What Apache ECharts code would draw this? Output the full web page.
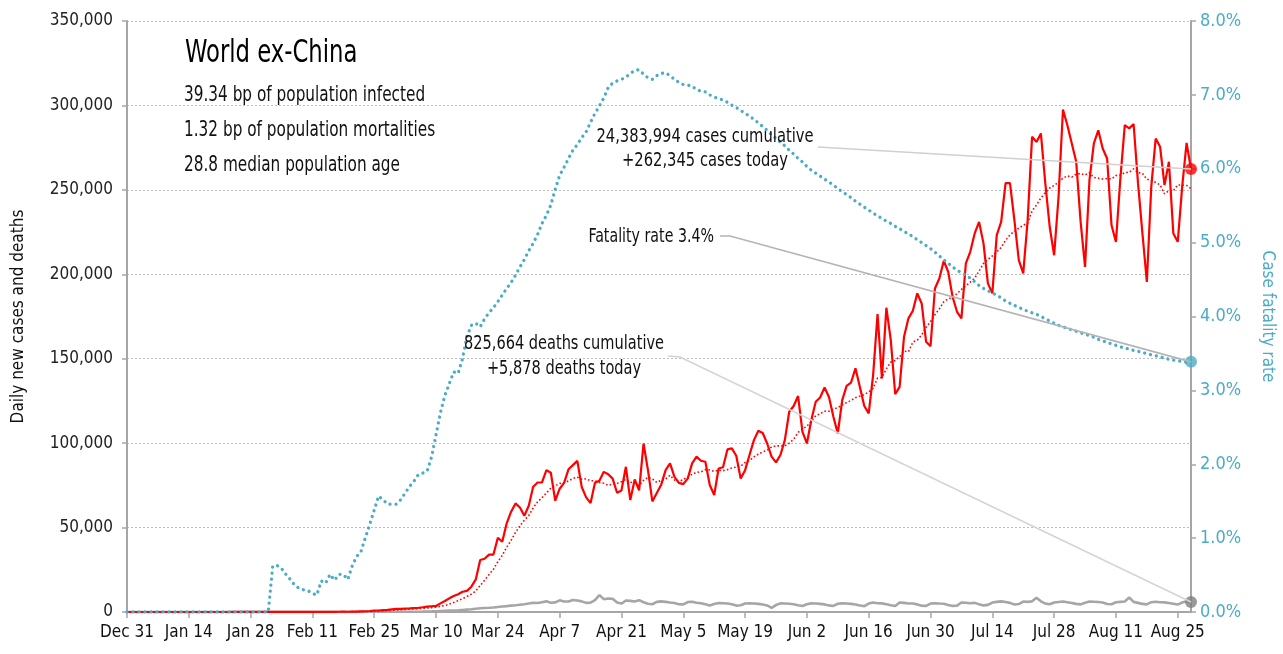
<!DOCTYPE html>
<html><head><meta charset="utf-8">
<script src="https://cdn.jsdelivr.net/npm/echarts@6/dist/echarts.min.js"></script>
<style>html,body{margin:0;padding:0;background:#fff}#c{width:1283px;height:654px}</style>
</head><body><div id="c"></div>
<script>
// ---- data: daily values from Dec 31 (index 0) to Aug 28 (index 241) ----
const startDate = '2019-12-31';
const nDays = 242;
const leftTicks = [0, 50000, 100000, 150000, 200000, 250000, 300000, 350000];
const rightTicks = [0, 1, 2, 3, 4, 5, 6, 7, 8];

// daily new cases, thousands
const casesK = [
  0,0,0,0,0,0,0,0,0,0, 0,0,0,0,0,0,0,0,0,0,
  0.01,0.01,0.01,0.01,0.02,0.02,0.02,0.03,0.02,0.03,0.03,
  0.03,0.02,0.03,0.03,0.04,0.05,0.07,0.05,0.06,0.08,
  0.07,0.1,0.1,0.08,0.1,0.09,0.12,0.15,0.2,0.15,
  0.3,0.25,0.35,0.45,0.6,
  0.8,0.9,1.1,1.3,1.6,1.8,1.9,2.0,2.1,2.3,
  2.5,2.8,3.2,3.4,3.6,5.1,6.5,8.1,9.5,10.5,
  12,12.5,15,19.3,30.8,31.5,34,34,44,41.6,
  52.5,59.4,64.3,61.9,57,62.9,74.2,76.7,76.7,84,
  82.5,65.9,73,76.5,84.5,87,89.5,74,67.9,64.5,
  76.5,77.7,83,81.6,79,70.6,72,86,66.3,78.5,
  72,99.8,84,65.5,70.5,75.4,84,88,80,76.5,
  75.7,79,88,92,89.6,89,75.2,69.3,85,85.7,
  96.3,96.9,92.5,79,84,93,101.8,107.3,106,99.8,
  92,88.6,93,101.8,118.6,122,127.9,106.7,99.8,113.7,
  124.5,127,133,127.3,115.6,105.8,125.5,133.9,135.9,144.3,
  133.3,122,117.6,140.3,176.4,138.3,180.2,161,129,133.3,
  163,173.9,178.4,188.7,182.7,160,157.4,191.6,197.5,208,
  201.5,186.7,177.8,173.9,206.4,213.3,224.2,231,218.3,194.6,
  188.7,223.2,231,254,254,232,208.4,200.5,232,281.4,
  278.4,283.4,253.8,228,211.3,245.9,297.6,288.3,277.5,266.6,
  231,204.4,255.7,277.5,285.3,274.5,268.6,229,219.2,256.7,
  288.3,286.4,289,253.8,224.2,195.5,251.8,280.4,275.5,252.8,
  266.6,224.2,219.2,251.8,277.8,262.345
];

// 7-day average of new cases, thousands
const casesAvgK = [
  0,0,0,0,0,0,0,0,0,0, 0,0,0,0,0,0,0,0,0,0,
  0,0,0,0,0.01,0.01,0.01,0.01,0.02,0.02,
  0.02,0.02,0.02,0.03,0.03,0.03,0.04,0.04,0.05,0.05,
  0.06,0.07,0.07,0.08,0.08,0.09,0.09,0.1,0.11,0.12,
  0.13,0.15,0.2,0.22,0.27,0.33,
  0.42,0.52,0.65,0.8,0.97,1.16,1.34,
  1.52,1.69,1.86,2.03,2.2,2.4,2.61,
  2.84,3.27,3.87,4.67,5.63,6.67,7.9,9.17,10.59,12.41,
  15.66,18.8,22.16,25.3,29.8,33.6,38.34,42.43,47.1,51.1,
  54.4,57.1,61.7,65.2,67.7,70.5,73.4,74.7,76.1,76.5,
  77.6,79.1,79.8,78.6,78.9,77.7,77.7,76.7,76.2,75,
  75.7,76.1,77.2,78.6,76.9,76.3,74.9,77.9,79.8,78.9,
  76.7,78,78.7,81,78.2,77.1,78.6,79.8,81.6,82.7,
  83,84.3,84.1,83.2,84,83.7,84.3,85.3,85.8,86.4,
  88.5,89.6,91.9,93.5,94.8,95.8,97.7,98.4,98.4,98.4,
  100,102.3,106.3,108.4,110,112.9,116.2,117.4,118.9,118.9,
  120.1,121,122.7,124,125.3,126.9,127.8,128.7,130.4,132.5,
  138.5,138.9,144,148,149,151.2,154.5,154.1,159.8,161,
  164.1,168.6,172,176.1,179.5,183.7,185.5,186.1,188.6,191,
  193.1,195.4,197.7,201.9,206.4,208.8,210.9,213.3,215.9,220.1,
  223.4,225.4,227.3,229,230.3,237.5,241,245.2,248.3,251.1,
  252.6,254.6,256.9,258.3,257.5,259.3,259.7,258.8,260.2,257.3,
  256.9,256.4,256.7,256.4,258.5,258.7,260.2,260.4,262.5,260.3,
  259.7,256.3,255.6,254.4,252.9,247.7,249.5,249.5,252.9,252.9,
  252.6,250.7
];

// daily deaths, thousands
const deathsK = [
  0,0,0,0,0,0,0,0,0,0, 0,0,0,0,0,0,0,0,0,0,
  0,0,0,0,0,0,0,0,0,0, 0,0,0,0,0,0,0,0,0,0,
  0,0,0,0,0,0,0,0,0,0,
  0.002,0.003,0.005,0.008,0.01,0.012,0.015,0.02,0.025,0.03,
  0.04,0.05,0.06,0.08,0.1,0.13,0.17,0.2,0.26,0.35,
  0.45,0.6,0.7,0.8,0.9,1.0,1.2,1.4,1.6,1.9,
  2.2,2.4,2.5,2.7,3.0,3.3,3.5,3.8,4.0,4.3,
  4.6,5.0,5.5,5.3,5.8,6.3,5.5,5.7,6.9,6.2,
  6.2,7.1,6.8,6.3,5.4,5.5,7.0,10.0,7.6,8.0,
  7.8,5.6,5.0,6.8,6.6,6.2,7.0,5.8,4.9,4.6,
  6.0,6.3,6.0,5.6,5.3,4.6,4.5,5.9,6.1,5.5,
  5.2,4.6,3.9,4.7,5.3,5.2,5.0,4.6,3.8,4.0,
  5.0,5.1,5.0,4.8,4.4,3.9,2.5,4.1,5.1,5.0,
  4.9,4.6,4.0,3.6,4.6,5.1,5.0,4.8,4.5,3.9,
  3.6,4.9,5.1,5.0,4.8,4.4,3.8,3.5,5.0,5.6,
  5.2,5.1,4.6,4.0,3.6,5.6,5.4,5.0,5.0,4.5,
  3.7,3.6,5.0,5.2,5.0,4.9,4.2,3.6,3.8,5.6,
  5.5,5.2,5.4,4.6,3.9,4.2,5.6,6.0,6.3,5.9,
  5.4,4.4,4.7,6.2,6.0,6.3,8.5,6.3,5.0,4.6,
  5.6,5.9,6.2,5.8,5.3,4.8,4.5,5.5,6.2,6.1,
  5.9,5.6,4.7,4.6,5.8,6.0,6.2,8.6,6.0,5.4,
  4.8,4.5,5.8,6.1,5.8,5.7,5.3,4.9,4.4,5.6,
  6.4,5.878
];

// case fatality rate, percent
const cfrPct = [
  0,0,0,0,0,0,0,0,0,0, 0,0,0,0,0,0,0,0,0,0,
  0,0,0,0,0,0,0,0,0,0, 0,0,0,
  0.62,0.63,0.59,0.51,0.44,0.36,0.32,0.30,0.29,0.25,
  0.23,0.42,0.39,0.51,0.43,0.51,0.51,0.44,0.62,0.75,
  0.82,1.01,1.19,1.38,1.57,1.52,1.46,1.46,1.46,1.52,
  1.61,1.70,1.77,1.86,1.88,1.91,2.10,2.40,2.70,2.93,
  3.09,3.25,3.23,3.43,3.73,3.88,3.91,3.86,3.97,4.05,
  4.12,4.20,4.29,4.38,4.46,4.56,4.67,4.77,4.89,4.99,
  5.11,5.26,5.37,5.51,5.72,5.91,6.02,6.14,6.25,6.33,
  6.42,6.50,6.63,6.75,6.85,6.96,7.10,7.16,7.19,7.21,
  7.24,7.29,7.33,7.34,7.28,7.23,7.21,7.26,7.29,7.30,
  7.26,7.21,7.17,7.14,7.13,7.12,7.07,7.05,7.04,7.00,
  6.97,6.95,6.93,6.90,6.86,6.83,6.79,6.75,6.71,6.67,
  6.62,6.57,6.52,6.46,6.41,6.36,6.31,6.25,6.20,6.14,
  6.09,6.03,5.98,5.94,5.90,5.86,5.82,5.78,5.73,5.69,
  5.65,5.61,5.56,5.52,5.48,5.44,5.40,5.36,5.33,5.29,
  5.26,5.22,5.19,5.15,5.12,5.08,5.04,5.00,4.96,4.92,
  4.87,4.82,4.77,4.72,4.67,4.63,4.59,4.56,4.52,4.47,
  4.42,4.38,4.35,4.32,4.29,4.25,4.21,4.18,4.15,4.12,
  4.10,4.07,4.05,4.03,4.00,3.97,3.94,3.91,3.88,3.86,
  3.84,3.82,3.80,3.78,3.76,3.74,3.72,3.69,3.67,3.65,
  3.63,3.61,3.59,3.57,3.56,3.54,3.53,3.51,3.50,3.48,
  3.47,3.45,3.44,3.42,3.41,3.40,3.39,3.38,3.386
];

const titleText = 'World ex-China';
const statLines = ['39.34 bp of population infected', '1.32 bp of population mortalities', '28.8 median population age'];
const casesNote = ['24,383,994 cases cumulative', '+262,345 cases today'];
const fatalityNote = 'Fatality rate 3.4%';
const deathsNote = ['825,664 deaths cumulative', '+5,878 deaths today'];

[['cases', casesK], ['avg', casesAvgK], ['deaths', deathsK], ['cfr', cfrPct]].forEach(function (p) {
  if (p[1].length !== nDays) throw new Error(p[0] + ' length ' + p[1].length);
});

// ---- categories ----
const MONTHS = ['Jan','Feb','Mar','Apr','May','Jun','Jul','Aug','Sep','Oct','Nov','Dec'];
const dates = [];
(function () {
  const t0 = Date.parse(startDate + 'T00:00:00Z');
  for (let i = 0; i < nDays; i++) {
    const d = new Date(t0 + i * 86400000);
    dates.push(MONTHS[d.getUTCMonth()] + ' ' + d.getUTCDate());
  }
})();

const FONT = "'DejaVu Sans Condensed', sans-serif";
const BLUE = '#4bacc6', RED = '#ff0000', GREY = '#a6a6a6', AXIS = '#a6a6a6';
const last = nDays - 1;

const chart = echarts.init(document.getElementById('c'), null, { renderer: 'canvas' });
chart.setOption({
  animation: false,
  backgroundColor: '#fff',
  textStyle: { fontFamily: FONT },
  grid: { left: 127, right: 92, top: 21, bottom: 42, containLabel: false, outerBoundsMode: 'none' },
  xAxis: {
    type: 'category', data: dates, boundaryGap: false,
    axisLine: { lineStyle: { color: AXIS, width: 2 } },
    axisTick: { interval: 13, length: 6, lineStyle: { color: AXIS, width: 1.5 } },
    axisLabel: { interval: 13, color: '#111', fontSize: 17, fontFamily: FONT, margin: 12 },
    splitLine: { show: false }
  },
  yAxis: [{
    type: 'value', min: leftTicks[0], max: leftTicks[leftTicks.length - 1], interval: leftTicks[1] - leftTicks[0],
    name: 'Daily new cases and deaths', nameLocation: 'middle', nameGap: 100, nameRotate: 90,
    nameTextStyle: { color: '#111', fontSize: 17, fontFamily: FONT },
    axisLine: { show: true, lineStyle: { color: AXIS, width: 2 } },
    axisTick: { show: true, length: 5, lineStyle: { color: AXIS, width: 1.5 } },
    axisLabel: { color: '#222', fontSize: 17, fontFamily: FONT, margin: 14,
      formatter: function (v) { return v.toLocaleString('en-US'); } },
    splitLine: { show: true, lineStyle: { color: '#bdbdbd', type: [2, 2], width: 1 } }
  }, {
    type: 'value', position: 'right', min: rightTicks[0], max: rightTicks[rightTicks.length - 1], interval: 1,
    name: 'Case fatality rate', nameLocation: 'middle', nameGap: 68, nameRotate: -90,
    nameTextStyle: { color: BLUE, fontSize: 17, fontFamily: FONT },
    axisLine: { show: true, lineStyle: { color: AXIS, width: 2 } },
    axisTick: { show: true, length: 5, lineStyle: { color: AXIS, width: 1.5 } },
    axisLabel: { color: BLUE, fontSize: 18, fontFamily: FONT, margin: 9,
      formatter: function (v) { return v.toFixed(1) + '%'; } },
    splitLine: { show: false }
  }],
  series: [
    { name: 'deaths', type: 'line', yAxisIndex: 0, showSymbol: false, z: 2,
      data: deathsK.map(function (v) { return v * 1000; }),
      lineStyle: { color: GREY, width: 2.6 } },
    { name: 'cases avg', type: 'line', yAxisIndex: 0, showSymbol: false, z: 3,
      data: casesAvgK.map(function (v) { return v * 1000; }),
      lineStyle: { color: RED, width: 1.6, type: [1.6, 2.2] } },
    { name: 'cases', type: 'line', yAxisIndex: 0, showSymbol: false, z: 4,
      data: casesK.map(function (v) { return v * 1000; }),
      lineStyle: { color: RED, width: 2.2 } },
    { name: 'cfr', type: 'line', yAxisIndex: 1, showSymbol: false, z: 5,
      data: cfrPct,
      lineStyle: { color: BLUE, width: 3.3, type: [0.01, 6], cap: 'round' } },
    { name: 'endCases', type: 'scatter', yAxisIndex: 0, z: 8, symbolSize: 12,
      data: [[dates[last], casesK[last] * 1000]], itemStyle: { color: RED } },
    { name: 'endCfr', type: 'scatter', yAxisIndex: 1, z: 8, symbolSize: 12,
      data: [[dates[last], cfrPct[last]]], itemStyle: { color: BLUE } },
    { name: 'endDeaths', type: 'scatter', yAxisIndex: 0, z: 8, symbolSize: 12,
      data: [[dates[last], deathsK[last] * 1000]], itemStyle: { color: '#7f7f7f' } }
  ]
});

// ---- annotations ----
const pCases = chart.convertToPixel({ xAxisIndex: 0, yAxisIndex: 0 }, [last, casesK[last] * 1000]);
const pCfr = chart.convertToPixel({ xAxisIndex: 0, yAxisIndex: 1 }, [last, cfrPct[last]]);
const pDeaths = chart.convertToPixel({ xAxisIndex: 0, yAxisIndex: 0 }, [last, deathsK[last] * 1000]);

function txt(s, x, y, size, sx, align, color) {
  return { type: 'text', z: 20, x: x, y: y, scaleX: sx,
    style: { text: s, x: 0, y: 0, fill: color || '#111',
      font: size + 'px ' + FONT, align: align || 'left', verticalAlign: 'middle' } };
}
function leader(points, color) {
  return { type: 'polyline', z: 15, shape: { points: points },
    style: { stroke: color, lineWidth: 1.6, fill: null } };
}
chart.setOption({
  graphic: [
    txt(titleText, 185, 54, 32, 0.79, 'left', '#000'),
    txt(statLines[0], 184, 96, 21, 0.81),
    txt(statLines[1], 184, 131, 21, 0.81),
    txt(statLines[2], 184, 166, 21, 0.81),
    txt(casesNote[0], 705, 137, 19.5, 0.84, 'center'),
    txt(casesNote[1], 705, 161, 19.5, 0.84, 'center'),
    txt(fatalityNote, 714, 237, 19.5, 0.81, 'right'),
    txt(deathsNote[0], 564, 344, 19.5, 0.83, 'center'),
    txt(deathsNote[1], 564, 369, 19.5, 0.83, 'center'),
    leader([[818, 147], pCases], '#d0d0d0'),
    leader([[720, 236], [730, 236], pCfr], '#b4b4b4'),
    leader([[668, 356], [680, 357], pDeaths], '#d4d4d4')
  ]
});
</script>
</body></html>
